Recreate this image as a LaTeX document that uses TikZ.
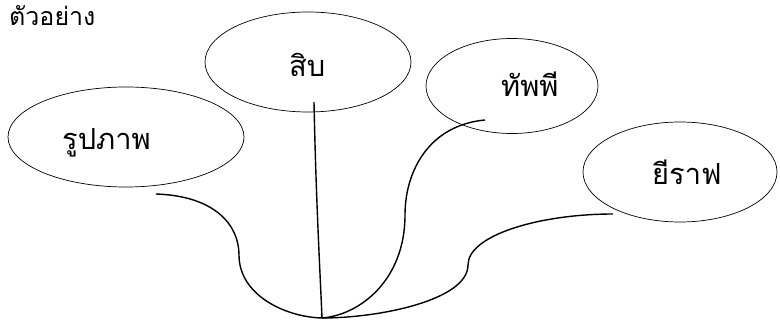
\documentclass[tikz,border=0pt]{standalone}
\usepackage{fontspec}
\newfontfamily\thaifont[Script=Thai]{Loma}
\usetikzlibrary{shapes.geometric}
\begin{document}
\begin{tikzpicture}[x=1pt,y=-1pt,
  bubble/.style={draw=black, line width=0.7pt, ellipse, inner sep=0pt},
  word/.style={font=\thaifont\fontsize{29}{33}\selectfont, inner sep=0pt, anchor=base west},
  link/.style={draw=black, line width=1.4pt}]
\useasboundingbox (0,0) rectangle (780,320);
\node[font=\thaifont\fontsize{25}{29}\selectfont, inner sep=0pt, anchor=base west] (title) at (9,26) {ตัวอย่าง};
\node[bubble, minimum width=236pt, minimum height=100pt] (e1) at (126,137) {};
\node[bubble, minimum width=206pt, minimum height=100pt] (e2) at (308,62) {};
\node[bubble, minimum width=172pt, minimum height=95pt] (e3) at (512,86) {};
\node[bubble, minimum width=194pt, minimum height=100pt] (e4) at (680,172) {};
\node[word] (t1) at (62,150) {รูปภาพ};
\node[word] (t2) at (289,77) {สิบ};
\node[word] (t3) at (501,97) {ทัพพี};
\node[word] (t4) at (652,185) {ยีราฟ};
\coordinate (s1) at (156,194);
\coordinate (s2) at (314,102);
\coordinate (s3) at (485,120);
\coordinate (s4) at (613,214);
\coordinate (hub) at (322,318);
\draw[link] (s1) .. controls (215,196) and (239,225) .. (239,255) .. controls (239,295) and (285,317) .. (hub);
\draw[link] (s2) .. controls (316,200) and (320,270) .. (hub);
\draw[link] (s3) .. controls (430,125) and (405,170) .. (405,215) .. controls (405,280) and (360,315) .. (hub);
\draw[link] (s4) .. controls (540,214) and (468,235) .. (468,265) .. controls (468,300) and (380,318) .. (hub);
\end{tikzpicture}
\end{document}
